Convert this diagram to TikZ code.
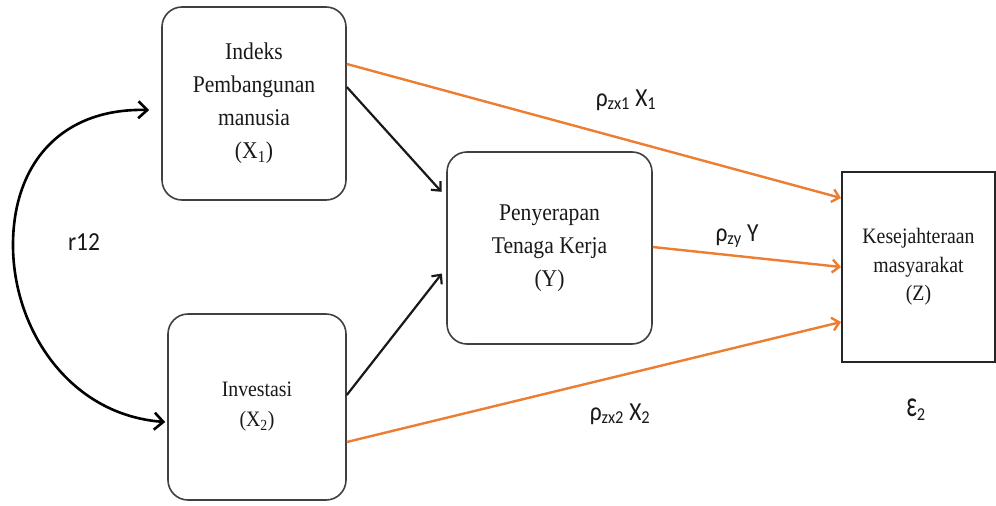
\documentclass[tikz,border=0pt]{standalone}
\usepackage{fontspec}
\setmainfont{Liberation Serif}
\newfontfamily\labfont{Carlito}[FakeStretch=0.9]
\newfontfamily\boxfont{Liberation Serif}[FakeStretch=0.9]
\usetikzlibrary{arrows.meta}
\definecolor{orng}{HTML}{ED7D31}
\definecolor{bordergray}{HTML}{404040}
\begin{document}
\begin{tikzpicture}[x=1pt,y=-1pt,
  rbox/.style={draw=bordergray, line width=1.6pt, rounded corners=20pt, align=center, inner sep=0pt, text=black!90},
  bigtxt/.style={font=\boxfont\fontsize{24}{33}\selectfont},
  smalltxt/.style={font=\boxfont\fontsize{22}{30}\selectfont},
  sqbox/.style={draw=black!85, line width=2pt, align=center, inner sep=0pt, text=black!90, font=\boxfont\fontsize{22}{28.5}\selectfont},
  blkarrow/.style={draw=black!90, line width=2.2pt, -{Straight Barb[length=7pt,width=13pt,line width=2.2pt]}},
  orgarrow/.style={draw=orng, line width=2.4pt, -{Straight Barb[length=7pt,width=13pt,line width=2.4pt]}},
  curvarrow/.style={draw=black, line width=2.6pt, {Straight Barb[length=9pt,width=17pt,line width=2.6pt]}-{Straight Barb[length=9pt,width=17pt,line width=2.6pt]}},
  lab/.style={font=\labfont\fontsize{26}{26}\selectfont, inner sep=0pt, text=black!90}
]
\useasboundingbox (0,0) rectangle (996,506);
\fill[white] (0,0) rectangle (996,506);

\node[rbox, bigtxt, minimum width=184pt, minimum height=193pt] (x1) at (254,103.5)
  {Indeks\\Pembangunan\\manusia\\(X\textsubscript{1})};
\node[rbox, smalltxt, minimum width=178pt, minimum height=186pt] (x2) at (257,407)
  {\raisebox{-5pt}{Investasi}\\\raisebox{-5pt}{(X\textsubscript{2})}};
\node[rbox, bigtxt, minimum width=205pt, minimum height=192pt] (y) at (549.5,248)
  {Penyerapan\\Tenaga Kerja\\(Y)};
\node[sqbox, minimum width=153pt, minimum height=190pt] (z) at (918.5,267)
  {Kesejahteraan\\masyarakat\\(Z)};

% black arrows to Y
\draw[blkarrow, shorten >=7pt] ([yshift=16.5pt]x1.east) -- ([yshift=51pt]y.west);
\draw[blkarrow, shorten >=7pt] ([yshift=12pt]x2.east) -- ([yshift=-20pt]y.west);

% orange arrows to Z
\draw[orgarrow] ([yshift=39.5pt]x1.east) -- ([yshift=69pt]z.west);
\draw[orgarrow] ([yshift=1pt]y.east) -- (z.west);
\draw[orgarrow] ([yshift=-35pt]x2.east) -- ([yshift=-55pt]z.west);

% correlation curve
\coordinate (ta) at ([xshift=-12pt,yshift=-6.5pt]x1.west);
\coordinate (tb) at ([xshift=-2pt,yshift=-15pt]x2.west);
\draw[curvarrow] (ta) .. controls (60,108) and (13,165) .. (13,245)
  .. controls (13,330) and (70,415) .. (tb);

% labels
\node[lab] (r) at (84,242) {r12};
\node[lab] (l1) at (626,100) {ρ\textsubscript{zx1} X\textsubscript{1}};
\node[lab] (l2) at (737,236) {ρ\textsubscript{zy} Y};
\node[lab] (l3) at (620,414) {ρ\textsubscript{zx2} X\textsubscript{2}};
\node[lab] (e2) at (916,410) {\scalebox{1}[1.4]{ε}\textsubscript{2}};
\end{tikzpicture}
\end{document}
